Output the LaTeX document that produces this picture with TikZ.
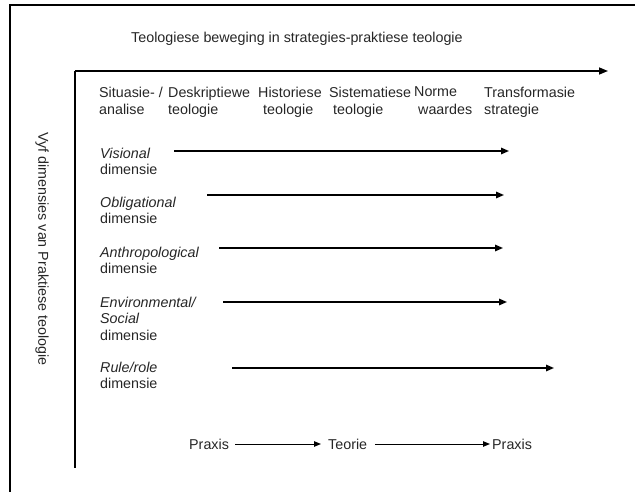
\documentclass[tikz,border=0pt]{standalone}
\usepackage{fontspec}
\setmainfont{Liberation Sans}
\usetikzlibrary{arrows.meta, positioning}

\begin{document}
\begin{tikzpicture}[
    x=1pt, y=-1pt,
    txt/.style={inner sep=0pt, anchor=north west, align=left, font=\fontsize{14.3}{16.5}\selectfont, text=black!85},
    head/.style={txt, font=\fontsize{14.3}{17.5}\selectfont},
    axis/.style={-{Triangle[length=9pt, width=7pt]}, line width=1.5pt},
    dimarrow/.style={-{Triangle[length=8pt, width=6.5pt]}, line width=1.6pt},
    flow/.style={-{Triangle[length=7pt, width=5.5pt]}, line width=1pt}
]
    \useasboundingbox (0,0) rectangle (635,492);
    \draw[line width=1.2pt] (10,492) -- (10,5) -- (635,5);

    \node[txt] (title) at (131,31.7) {Teologiese beweging in strategies-praktiese teologie};

    % axes
    \coordinate (origin) at (75,71);
    \coordinate (xend) at (608,71);
    \coordinate (yend) at (75,468);
    \draw[axis] (origin) -- (xend);
    \draw[line width=1.5pt] (origin) -- (yend);
    \node[txt, anchor=center, rotate=-90] (ylab) at (42,249) {Vyf dimensies van Praktiese teologie};

    % steps along the top
    \node[head] (sit) at (99,86.7) {Situasie- /\\analise};
    \node[head] (desk) at (168,86.7) {Deskriptiewe\\teologie};
    \node[head] (hist) at (258,86.7) {Historiese\\\hspace{5pt}teologie};
    \node[head] (sist) at (329,86.7) {Sistematiese\\\hspace{4pt}teologie};
    \node[head] (norm) at (414,86.7) {Norme\\\hspace{4pt}waardes};
    \node[head] (trans) at (484,86.7) {Transformasie\\strategie};

    % the five dimensions
    \node[txt] (vis) at (100,147.7) {\textit{Visional}\\dimensie};
    \node[txt] (obl) at (100,196.7) {\textit{Obligational}\\dimensie};
    \node[txt] (anth) at (100,246.7) {\textit{Anthropological}\\dimensie};
    \node[txt] (env) at (100,296.7) {\textit{Environmental/}\\\textit{Social}\\dimensie};
    \node[txt] (rule) at (100,361.7) {\textit{Rule/role}\\dimensie};

    \coordinate (vis-a) at (174,151);  \coordinate (vis-b) at (509,151);
    \coordinate (obl-a) at (207,195);  \coordinate (obl-b) at (504,195);
    \coordinate (anth-a) at (219,248); \coordinate (anth-b) at (503,248);
    \coordinate (env-a) at (223,302);  \coordinate (env-b) at (507,302);
    \coordinate (rule-a) at (232,368); \coordinate (rule-b) at (554,368);
    \draw[dimarrow] (vis-a) -- (vis-b);
    \draw[dimarrow] (obl-a) -- (obl-b);
    \draw[dimarrow] (anth-a) -- (anth-b);
    \draw[dimarrow] (env-a) -- (env-b);
    \draw[dimarrow] (rule-a) -- (rule-b);

    % praxis - teorie - praxis
    \node[txt, anchor=west] (prax1) at (189,444) {Praxis};
    \node[txt, anchor=west] (teo) at (328,444) {Teorie};
    \node[txt, anchor=west] (prax2) at (492,444) {Praxis};
    \draw[flow, shorten <=6pt, shorten >=7pt] (prax1.east) -- (teo.west);
    \draw[flow, shorten <=7.5pt, shorten >=2pt] (teo.east) -- (prax2.west);
\end{tikzpicture}
\end{document}
